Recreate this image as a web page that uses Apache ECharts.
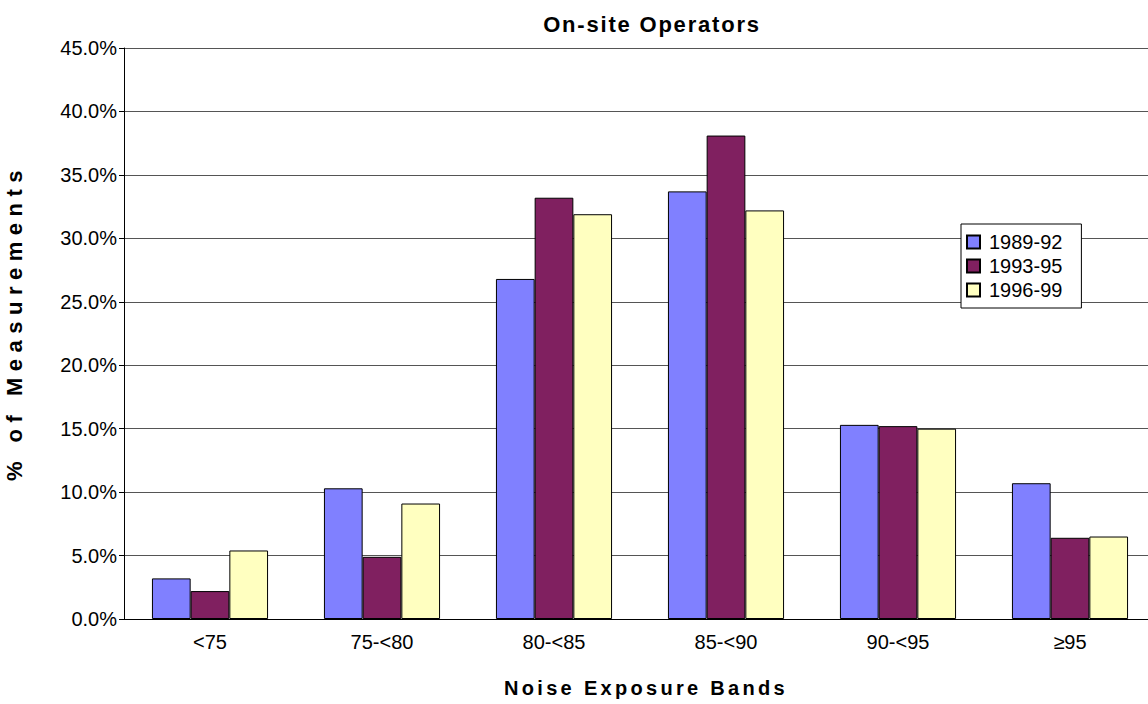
<!DOCTYPE html>
<html><head><meta charset="utf-8">
<script src="https://cdn.jsdelivr.net/npm/echarts@6/dist/echarts.min.js"></script>
<style>html,body{margin:0;padding:0;background:#fff}#c{width:1148px;height:704px}</style>
</head><body><div id="c"></div>
<script>
const categories = ['<75', '75-<80', '80-<85', '85-<90', '90-<95', '≥95'];
const seriesNames = ['1989-92', '1993-95', '1996-99'];
const s1989 = [3.2, 10.3, 26.8, 33.7, 15.3, 10.7];
const s1993 = [2.2, 4.9, 33.2, 38.1, 15.2, 6.4];
const s1996 = [5.4, 9.1, 31.9, 32.2, 15.0, 6.5];
const colors = ['#8080FF', '#802060', '#FFFFC0'];
const titleText = 'On-site Operators';
const xName = 'Noise Exposure Bands';
const yName = '% of Measurements';

const chart = echarts.init(document.getElementById('c'), null, { renderer: 'svg' });
const font = 'Liberation Sans, Arial, sans-serif';
const mk = (name, data, color) => ({
  name, type: 'bar', data, barGap: '0%', barCategoryGap: '32.5%',
  itemStyle: { color, borderColor: '#000', borderWidth: 1 },
  emphasis: { disabled: true }
});
chart.setOption({
  animation: false,
  title: { text: titleText, left: 647, top: 8, textAlign: 'center',
    textStyle: { fontFamily: font, fontSize: 22, fontWeight: 'bold', color: '#000' } },
  legend: {
    orient: 'vertical', left: 961, top: 224,
    itemWidth: 13, itemHeight: 13, itemGap: 4, icon: 'rect',
    padding: [8, 19, 8, 5],
    backgroundColor: '#fff', borderColor: '#000', borderWidth: 1,
    textStyle: { fontFamily: font, fontSize: 20, color: '#000', padding: [0, 0, 0, 4] },
    data: seriesNames
  },
  grid: { left: 124, right: -8, top: 48, bottom: 85, containLabel: false, outerBoundsMode: 'none' },
  xAxis: {
    type: 'category', data: categories,
    name: xName, nameLocation: 'middle', nameGap: 59,
    nameTextStyle: { fontFamily: font, fontSize: 20, fontWeight: 'bold', color: '#000', padding: [0, 0, 0, 12] },
    axisLine: { lineStyle: { color: '#000' } },
    axisTick: { length: 6, lineStyle: { color: '#000' } },
    axisLabel: { fontFamily: font, fontSize: 20, color: '#000', margin: 13 }
  },
  yAxis: {
    type: 'value', min: 0, max: 45, interval: 5,
    name: yName, nameLocation: 'middle', nameGap: 99,
    nameTextStyle: { fontFamily: font, fontSize: 22, fontWeight: 'bold', color: '#000', padding: [0, 0, 0, 22] },
    axisLine: { show: true, lineStyle: { color: '#000' } },
    axisTick: { show: true, length: 5, lineStyle: { color: '#000' } },
    axisLabel: { fontFamily: font, fontSize: 20, color: '#000', margin: 7,
      formatter: v => v.toFixed(1) + '%' },
    splitLine: { lineStyle: { color: '#555', width: 1 } }
  },
  series: [mk(seriesNames[0], s1989, colors[0]), mk(seriesNames[1], s1993, colors[1]), mk(seriesNames[2], s1996, colors[2])]
});
// emulate the reference's letter spacing on the bold texts
const spacing = {};
spacing[titleText] = '1.8px';
spacing[xName] = '3.3px';
spacing[yName] = '6.5px';
document.querySelectorAll('#c svg text').forEach(t => {
  const s = spacing[t.textContent];
  if (s) t.style.letterSpacing = s;
});
</script></body></html>
